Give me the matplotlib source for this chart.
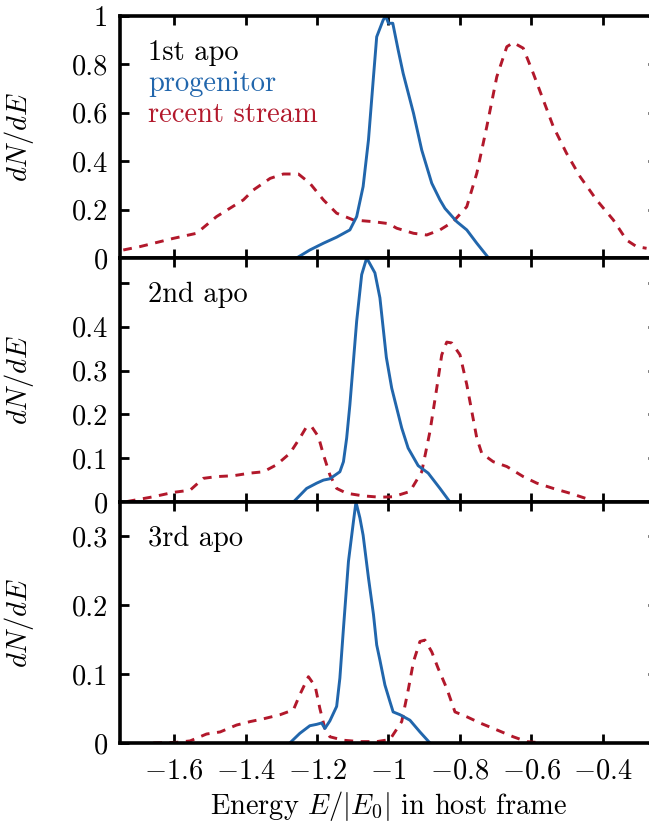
import numpy as np
import matplotlib
matplotlib.use('Agg')
import matplotlib.pyplot as plt

plt.rcParams['font.family'] = ['cmr10', 'DejaVu Serif']
plt.rcParams['mathtext.fontset'] = 'cm'
plt.rcParams['axes.unicode_minus'] = False

BLUE = '#2166ac'
RED = '#b2182b'

# panel 1: 1st apo
prog1_x = [-1.257, -1.220, -1.182, -1.145, -1.108, -1.089, -1.071, -1.056, -1.042, -1.033, -1.015, -1.008,
           -1.000, -0.988, -0.973, -0.959, -0.930, -0.907, -0.879, -0.856, -0.842, -0.809, -0.781, -0.753, -0.720]
prog1_y = [0.0, 0.033, 0.061, 0.086, 0.116, 0.171, 0.295, 0.488, 0.749, 0.914, 0.983, 1.0,
           0.97, 0.97, 0.86, 0.763, 0.598, 0.446, 0.309, 0.240, 0.205, 0.150, 0.116, 0.061, 0.0]
strm1_x = [-1.742, -1.695, -1.602, -1.537, -1.481, -1.406, -1.378, -1.331, -1.294, -1.252, -1.220, -1.182,
           -1.145, -1.098, -1.042, -1.000, -0.977, -0.930, -0.893, -0.856, -0.819, -0.781, -0.753, -0.725,
           -0.697, -0.669, -0.651, -0.623, -0.595, -0.567, -0.539, -0.502, -0.464, -0.418, -0.371, -0.334,
           -0.306, -0.278]
strm1_y = [0.033, 0.047, 0.081, 0.102, 0.171, 0.240, 0.281, 0.329, 0.347, 0.347, 0.309, 0.240,
           0.185, 0.157, 0.150, 0.142, 0.123, 0.102, 0.095, 0.116, 0.150, 0.212, 0.350, 0.543,
           0.749, 0.873, 0.890, 0.867, 0.763, 0.653, 0.543, 0.433, 0.336, 0.240, 0.157, 0.074,
           0.047, 0.040]

# panel 2: 2nd apo
prog2_x = [-1.266, -1.229, -1.201, -1.182, -1.164, -1.136, -1.126, -1.117, -1.108, -1.089, -1.075, -1.061,
           -1.038, -1.024, -1.006, -0.991, -0.963, -0.945, -0.917, -0.889, -0.856, -0.828]
prog2_y = [0.0, 0.031, 0.043, 0.050, 0.053, 0.069, 0.092, 0.146, 0.222, 0.413, 0.519, 0.557,
           0.523, 0.466, 0.330, 0.260, 0.169, 0.123, 0.083, 0.066, 0.031, 0.0]
strm2_x = [-1.732, -1.658, -1.602, -1.555, -1.518, -1.481, -1.434, -1.387, -1.350, -1.313, -1.276, -1.248,
           -1.229, -1.215, -1.196, -1.182, -1.164, -1.145, -1.117, -1.071, -1.024, -0.987, -0.940, -0.907,
           -0.884, -0.865, -0.851, -0.837, -0.823, -0.800, -0.781, -0.767, -0.753, -0.739, -0.707, -0.669,
           -0.623, -0.585, -0.539, -0.492, -0.436]
strm2_y = [0.001, 0.012, 0.022, 0.027, 0.054, 0.058, 0.060, 0.066, 0.069, 0.085, 0.111, 0.146,
           0.172, 0.172, 0.149, 0.108, 0.062, 0.031, 0.020, 0.014, 0.011, 0.012, 0.024, 0.069,
           0.161, 0.260, 0.336, 0.365, 0.363, 0.336, 0.268, 0.207, 0.146, 0.111, 0.092, 0.081,
           0.058, 0.043, 0.031, 0.020, 0.005]

# panel 3: 3rd apo
prog3_x = [-1.276, -1.248, -1.220, -1.201, -1.187, -1.178, -1.164, -1.145, -1.136, -1.126, -1.112, -1.098,
           -1.091, -1.080, -1.071, -1.056, -1.042, -1.033, -1.024, -1.010, -0.996, -0.987, -0.968, -0.940,
           -0.912, -0.884]
prog3_y = [0.0, 0.014, 0.025, 0.027, 0.029, 0.021, 0.032, 0.053, 0.094, 0.166, 0.263, 0.321,
           0.349, 0.326, 0.301, 0.239, 0.186, 0.142, 0.120, 0.084, 0.060, 0.045, 0.041, 0.033,
           0.016, 0.0]
strm3_x = [-1.658, -1.592, -1.555, -1.509, -1.471, -1.425, -1.387, -1.350, -1.303, -1.266, -1.248, -1.224,
           -1.205, -1.192, -1.178, -1.164, -1.126, -1.080, -1.033, -0.996, -0.963, -0.944, -0.930, -0.912,
           -0.898, -0.879, -0.861, -0.837, -0.814, -0.781, -0.744, -0.697, -0.651, -0.613, -0.567]
strm3_y = [0.0, 0.001, 0.003, 0.013, 0.016, 0.026, 0.031, 0.035, 0.041, 0.048, 0.070, 0.096,
           0.082, 0.050, 0.021, 0.009, 0.004, 0.002, 0.002, 0.005, 0.031, 0.079, 0.118, 0.147,
           0.149, 0.132, 0.108, 0.079, 0.045, 0.038, 0.029, 0.019, 0.009, 0.002, 0.0]

panel_names = ['1st apo', '2nd apo', '3rd apo']
ylims = [1.0, 0.557, 0.349]
yticks = [[0, 0.2, 0.4, 0.6, 0.8, 1.0], [0, 0.1, 0.2, 0.3, 0.4, 0.5], [0, 0.1, 0.2, 0.3]]
ylabels = [['0', '0.2', '0.4', '0.6', '0.8', '1'], ['0', '0.1', '0.2', '0.3', '0.4', ''], ['0', '0.1', '0.2', '0.3']]
xticks = [-1.6, -1.4, -1.2, -1.0, -0.8, -0.6, -0.4]
xlabels = ['$-1.6$', '$-1.4$', '$-1.2$', '$-1$', '$-0.8$', '$-0.6$', '$-0.4$']

prog = [(prog1_x, prog1_y), (prog2_x, prog2_y), (prog3_x, prog3_y)]
strm = [(strm1_x, strm1_y), (strm2_x, strm2_y), (strm3_x, strm3_y)]

fig = plt.figure(figsize=(6.49, 8.25), dpi=100)
rects = [(0.1855, 0.6873, 0.8262, 0.2933),
         (0.1855, 0.3915, 0.8262, 0.2958),
         (0.1855, 0.0994, 0.8262, 0.2921)]

fs = 20.5
for i in range(3):
    ax = fig.add_axes(rects[i])
    ax.plot(strm[i][0], strm[i][1], color=RED, lw=2.1, ls=(0, (3, 2.6)))
    ax.plot(prog[i][0], prog[i][1], color=BLUE, lw=2.1)
    ax.set_xlim(-1.75, -0.25)
    ax.set_ylim(0, ylims[i])
    ax.set_xticks(xticks)
    ax.set_yticks(yticks[i])
    ax.set_yticklabels(ylabels[i], fontsize=fs)
    if i == 2:
        ax.set_xticklabels(xlabels, fontsize=fs)
        ax.set_xlabel(r'Energy $E/|E_0|$ in host frame', fontsize=fs, labelpad=3)
    else:
        ax.set_xticklabels([])
    ax.tick_params(direction='in', length=6.5, width=2.0, top=True, right=True, pad=9)
    ax.tick_params(axis='x', pad=11)
    for s in ax.spines.values():
        s.set_linewidth(2.6)
    ax.set_ylabel(r'$dN/dE$', fontsize=fs)
    ax.yaxis.set_label_coords(-0.158, 0.5)
    ax.text(0.0515, 0.818, panel_names[i], transform=ax.transAxes, fontsize=fs, va='baseline', ha='left')
    if i == 0:
        ax.text(0.0515, 0.691, 'progenitor', color=BLUE, transform=ax.transAxes, fontsize=fs, va='baseline')
        ax.text(0.0515, 0.563, 'recent stream', color=RED, transform=ax.transAxes, fontsize=fs, va='baseline')

fig.savefig('out.png', dpi=100)
